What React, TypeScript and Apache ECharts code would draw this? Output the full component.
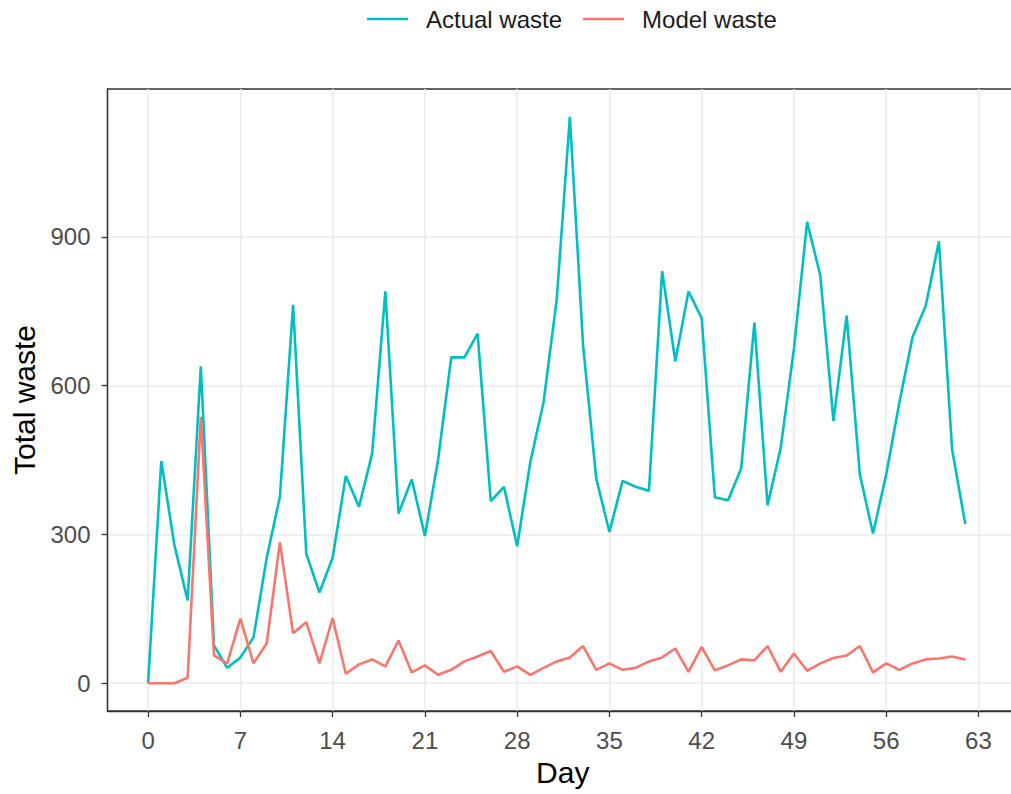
import React, { useEffect, useRef } from "react";
import * as echarts from "echarts";

const days: number[] = Array.from({ length: 63 }, (_, i) => i);

const actualWaste: number[] = [
  0, 448, 278, 167, 639, 76, 31, 52, 93, 253,
  376, 763, 261, 183, 253, 418, 356, 463, 790, 342,
  411, 297, 450, 657, 657, 705, 367, 396, 276, 446,
  566, 773, 1142, 682, 413, 305, 408, 396, 388, 831,
  649, 790, 736, 375, 369, 433, 727, 359, 475, 674,
  930, 822, 529, 741, 421, 302, 421, 566, 698, 761,
  891, 471, 321,
];

const modelWaste: number[] = [
  0, 0, 0, 11, 537, 56, 40, 130, 40, 80,
  284, 101, 123, 40, 131, 19, 38, 48, 34, 86,
  22, 36, 17, 27, 44, 54, 65, 23, 34, 17,
  31, 44, 52, 75, 27, 40, 27, 31, 44, 52,
  70, 23, 73, 26, 36, 48, 46, 75, 23, 60,
  25, 40, 51, 56, 75, 22, 40, 27, 40, 48,
  50, 54, 48,
];

const xTicks: number[] = [0, 7, 14, 21, 28, 35, 42, 49, 56, 63];
const yTicks: number[] = [0, 300, 600, 900];

const FONT = "'Liberation Sans', Arial, Helvetica, sans-serif";

export default function App() {
  const ref = useRef<HTMLDivElement>(null);

  useEffect(() => {
    if (!ref.current) return;
    const chart = echarts.init(ref.current, null, { renderer: "svg" });
    chart.setOption({
      animation: false,
      backgroundColor: "#ffffff",
      textStyle: { fontFamily: FONT },
      legend: {
        left: 362,
        top: 2,
        icon: "rect",
        itemWidth: 41,
        itemHeight: 2.5,
        itemGap: 21,
        textStyle: {
          fontFamily: FONT,
          fontSize: 24,
          color: "#1a1a1a",
          padding: [0, 0, 0, 13],
        },
        data: ["Actual waste", "Model waste"],
      },
      grid: {
        left: 107.5,
        top: 89,
        right: 0,
        bottom: 83,
        show: true,
        borderColor: "#333333",
        borderWidth: 1.3,
        backgroundColor: "transparent",
      },
      xAxis: {
        type: "value",
        min: -3.08,
        max: 66.0,
        name: "Day",
        nameLocation: "middle",
        nameGap: 46,
        nameTextStyle: { fontFamily: FONT, fontSize: 30, color: "#000" },
        axisLine: { show: true, onZero: false, lineStyle: { color: "#333333", width: 1.3 } },
        axisTick: {
          show: true,
          length: 6,
          customValues: xTicks,
          lineStyle: { color: "#333333", width: 1.3 },
        },
        axisLabel: {
          customValues: xTicks,
          fontFamily: FONT,
          fontSize: 24,
          color: "#4d4d4d",
          margin: 17,
        },
        splitLine: { show: true, lineStyle: { color: "#ebebeb", width: 1.6 } },
      },
      yAxis: {
        type: "value",
        min: -56,
        max: 1198,
        name: "Total waste",
        nameLocation: "middle",
        nameRotate: 90,
        nameGap: 55,
        nameTextStyle: { fontFamily: FONT, fontSize: 30, color: "#000" },
        axisLine: { show: true, onZero: false, lineStyle: { color: "#333333", width: 1.3 } },
        axisTick: {
          show: true,
          length: 6,
          customValues: yTicks,
          lineStyle: { color: "#333333", width: 1.3 },
        },
        axisLabel: {
          customValues: yTicks,
          fontFamily: FONT,
          fontSize: 24,
          color: "#4d4d4d",
          margin: 17,
        },
        splitLine: { show: true, lineStyle: { color: "#ebebeb", width: 1.6 } },
      },
      series: [
        {
          name: "Actual waste",
          type: "line",
          showSymbol: false,
          symbol: "none",
          color: "#00BFC4",
          lineStyle: { color: "#00BFC4", width: 2.6 },
          data: days.map((d, i) => [d, actualWaste[i]]),
        },
        {
          name: "Model waste",
          type: "line",
          showSymbol: false,
          symbol: "none",
          color: "#F8766D",
          lineStyle: { color: "#F8766D", width: 2.6 },
          data: days.map((d, i) => [d, modelWaste[i]]),
        },
      ],
    });
    return () => chart.dispose();
  }, []);

  return (
    <div
      style={{
        position: "fixed",
        left: 0,
        top: 0,
        width: 1011,
        height: 794,
        overflow: "hidden",
        background: "#fff",
      }}
    >
      <div ref={ref} style={{ width: 1018, height: 794 }} />
    </div>
  );
}
